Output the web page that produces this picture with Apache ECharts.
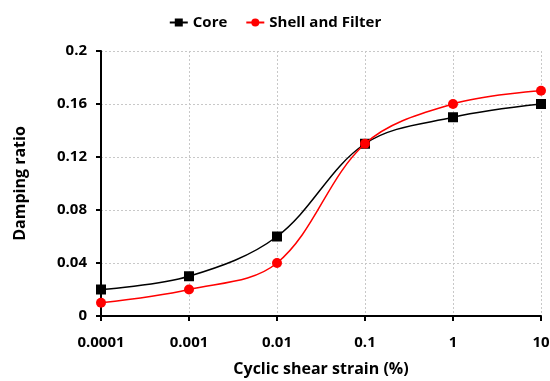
<!DOCTYPE html>
<html><head><meta charset="utf-8">
<script src="https://cdn.jsdelivr.net/npm/echarts@6/dist/echarts.min.js"></script>
<style>html,body{margin:0;padding:0;background:#fff}#c{width:550px;height:381px}</style>
</head><body><div id="c"></div>
<script>
const strains = [0.0001, 0.001, 0.01, 0.1, 1, 10];
const coreValues = [0.02, 0.03, 0.06, 0.13, 0.15, 0.16];
const shellValues = [0.01, 0.02, 0.04, 0.13, 0.16, 0.17];
const xTickLabels = ['0.0001', '0.001', '0.01', '0.1', '1', '10'];
const yTickLabels = ['0', '0.04', '0.08', '0.12', '0.16', '0.2'];

const font = 'Open Sans';
const chart = echarts.init(document.getElementById('c'));
const pair = (xs, ys) => xs.map((x, i) => [x, ys[i]]);
chart.setOption({
  animation: false,
  legend: {
    top: 10, left: 'center', itemWidth: 18, itemHeight: 10, itemGap: 18,
    textStyle: {fontFamily: font, fontWeight: 'bold', fontSize: 15, color: '#000'},
    data: ['Core', 'Shell and Filter']
  },
  grid: {left: 101, right: 9, top: 51, bottom: 65, containLabel: false, outerBoundsMode: 'none'},
  xAxis: {
    type: 'log', logBase: 10, min: 0.0001, max: 10,
    name: 'Cyclic shear strain (%)', nameLocation: 'middle', nameGap: 45,
    nameTextStyle: {fontFamily: font, fontWeight: 'bold', fontSize: 16, color: '#000'},
    axisLine: {lineStyle: {color: '#000', width: 2}},
    axisTick: {show: true, length: 5, lineStyle: {color: '#000', width: 2}},
    axisLabel: {fontFamily: font, fontWeight: 'bold', fontSize: 15, color: '#000', margin: 19,
      formatter: v => { const i = Math.round(Math.log10(v) + 4); return xTickLabels[i] ?? ''; }},
    splitLine: {show: true, lineStyle: {color: '#c8c8c8', type: [2, 2], width: 1}},
    minorTick: {show: false}
  },
  yAxis: {
    type: 'value', min: 0, max: 0.2, interval: 0.04,
    name: 'Damping ratio', nameLocation: 'middle', nameGap: 73, nameRotate: 90,
    nameTextStyle: {fontFamily: font, fontWeight: 'bold', fontSize: 16, color: '#000'},
    axisLine: {show: true, lineStyle: {color: '#000', width: 2}},
    axisTick: {show: true, length: 5, lineStyle: {color: '#000', width: 2}},
    axisLabel: {fontFamily: font, fontWeight: 'bold', fontSize: 15, color: '#000', margin: 14,
      formatter: v => yTickLabels[Math.round(v / 0.04)] ?? ''},
    splitLine: {show: true, lineStyle: {color: '#c8c8c8', type: [2, 2], width: 1}}
  },
  series: [
    {name: 'Core', type: 'line', data: pair(strains, coreValues), smooth: 0.35,
     symbol: 'rect', symbolSize: 10, itemStyle: {color: '#000'},
     lineStyle: {color: '#000', width: 1.5}, z: 3},
    {name: 'Shell and Filter', type: 'line', data: pair(strains, shellValues), smooth: 0.35,
     symbol: 'circle', symbolSize: 10, itemStyle: {color: '#ff0000'},
     lineStyle: {color: '#ff0000', width: 1.5}, z: 4}
  ]
});
</script></body></html>
